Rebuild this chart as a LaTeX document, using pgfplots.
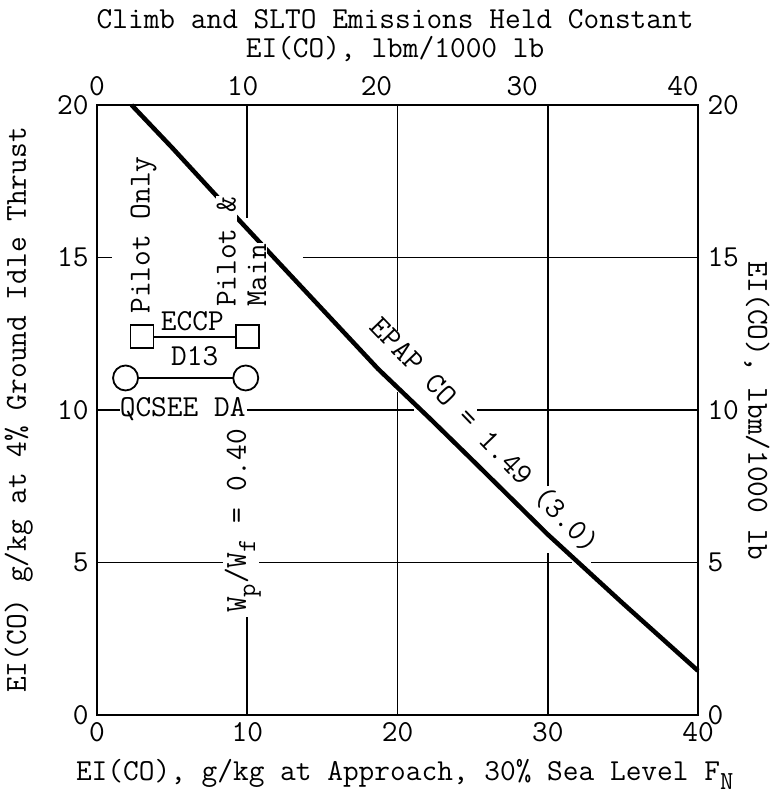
\documentclass[border=0pt]{standalone}
\usepackage{pgfplots}
\pgfplotsset{compat=1.18}
\renewcommand{\familydefault}{\ttdefault}

\newcommand{\chartfont}{\fontsize{30.5bp}{32bp}\selectfont\ttfamily}
\newcommand{\sub}[1]{\raisebox{-0.3em}{\fontsize{26bp}{28bp}\selectfont #1}}

\begin{document}
\begin{tikzpicture}[font=\chartfont]
\path[use as bounding box] (-97bp,-80bp) rectangle (680bp,715bp);

% main axis: bottom / left scales, data and annotations
\begin{axis}[
  at={(0,0)}, anchor=south west,
  scale only axis, width=601bp, height=610bp,
  xmin=0, xmax=40, ymin=0, ymax=20,
  xtick={0,10,20,30,40}, ytick={0,5,10,15,20},
  major tick length=0pt,
  axis line style={line width=2.5bp},
  tick label style={font=\chartfont, /pgf/number format/assume math mode=true},
  xticklabel style={yshift=-4bp},
  yticklabel style={xshift=-5bp},
  clip=false,
]
% partial grid lines (broken where labels cross them)
\addplot[line width=1.8bp, forget plot] coordinates {(10,16.3) (10,20)};
\addplot[line width=1.8bp, forget plot] coordinates {(10,0) (10,3.2)};
\addplot[line width=1.8bp, forget plot] coordinates {(20,12.6) (20,20)};
\addplot[line width=1.8bp, forget plot] coordinates {(20,0) (20,10.6)};
\addplot[line width=1.8bp, forget plot] coordinates {(30,7.5) (30,20)};
\addplot[line width=1.8bp, forget plot] coordinates {(30,0) (30,5.3)};
\addplot[line width=1.8bp, forget plot] coordinates {(0,15) (1,15)};
\addplot[line width=1.8bp, forget plot] coordinates {(13.7,15) (40,15)};
\addplot[line width=1.8bp, forget plot] coordinates {(0,10) (1.5,10)};
\addplot[line width=1.8bp, forget plot] coordinates {(10,10) (21.1,10)};
\addplot[line width=1.8bp, forget plot] coordinates {(25.3,10) (40,10)};
\addplot[line width=1.8bp, forget plot] coordinates {(0,5) (8.4,5)};
\addplot[line width=1.8bp, forget plot] coordinates {(10.8,5) (31.6,5)};
\addplot[line width=1.8bp, forget plot] coordinates {(32.9,5) (40,5)};

% EPAP CO = 1.49 line
\addplot[line width=4.5bp, no marks] coordinates {
  (2.3,20.0) (5,18.6) (7.8,17.1) (11.3,15.25) (15,13.3) (18.7,11.35)
  (22.2,9.7) (25,8.35) (30,5.92) (35,3.66) (40,1.45)
};

% ECCP D13
\addplot[line width=2.5bp, mark=square*, mark size=11.5bp,
  mark options={fill=white, line width=1.8bp}]
  coordinates {(3,12.4) (10,12.4)};
% QCSEE DA
\addplot[line width=2.5bp, mark=*, mark size=12.5bp,
  mark options={fill=white, line width=1.8bp}]
  coordinates {(1.9,11.05) (9.9,11.05)};

\node[rotate=90] at (axis cs:3.1,15.74) {Pilot Only};
\node[rotate=90, anchor=west, fill=white, inner sep=1bp] at (axis cs:8.6,13.34) {Pilot \&};
\node[rotate=90, anchor=west, fill=white, inner sep=1bp] at (axis cs:10.65,13.34) {Main};
\node at (axis cs:6.35,12.9) {ECCP};
\node at (axis cs:6.5,11.77) {D13};
\node at (axis cs:5.7,10.03) {QCSEE DA};
\node[rotate=90] at (axis cs:9.7,6.36) {W\sub{p}/W\sub{f} = 0.40};
\node[rotate=-46] at (axis cs:25.8,9.18) {EPAP CO = 1.49 (3.0)};

% titles and axis labels
\node at (axis description cs:0.496,1.141) {Climb and SLTO Emissions Held Constant};
\node at (axis description cs:0.496,1.092) {EI(CO), lbm/1000 lb};
\node at (axis description cs:0.512,-0.098) {EI(CO), g/kg at Approach, 30\% Sea Level F\sub{N}};
\node[rotate=90] at (axis description cs:-0.130,0.5) {EI(CO) g/kg at 4\% Ground Idle Thrust};
\node[rotate=-90] at (axis description cs:1.098,0.498) {EI(CO), lbm/1000 lb};
\end{axis}

% secondary scales: top and right
\begin{axis}[
  at={(0,0)}, anchor=south west,
  scale only axis, width=601bp, height=610bp,
  xmin=0, xmax=40, ymin=0, ymax=20,
  axis x line*=top, axis y line*=right,
  axis line style={draw=none},
  major tick length=0pt,
  xtick={0,9.7,18.6,28.3,39}, xticklabels={0,10,20,30,40},
  ytick={0,5,10,15,20},
  tick label style={font=\chartfont, /pgf/number format/assume math mode=true},
  xticklabel style={yshift=6bp},
  yticklabel style={xshift=6bp},
]
\addplot[draw=none] coordinates {(0,0) (40,20)};
\end{axis}
\end{tikzpicture}
\end{document}
